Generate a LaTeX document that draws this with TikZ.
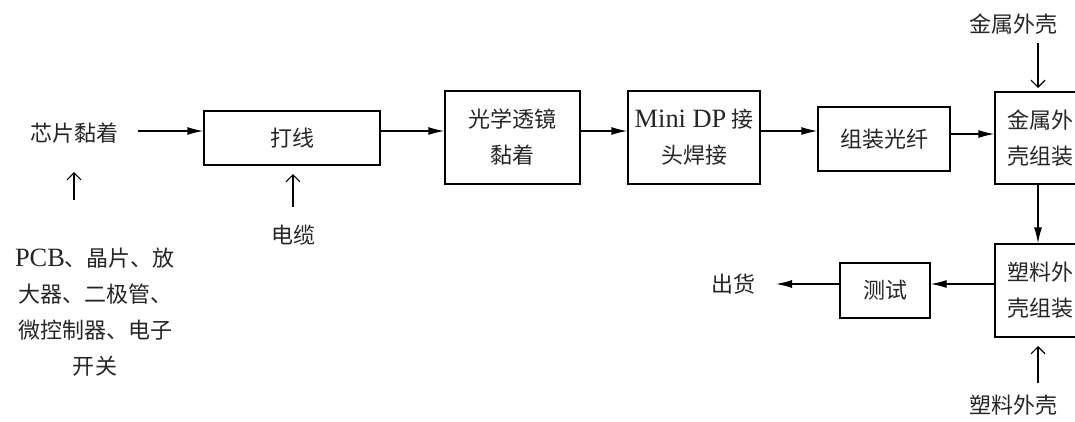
\documentclass[tikz,border=0pt]{standalone}
\usepackage{fontspec}
\setmainfont{Noto Sans CJK SC}
\newfontfamily\lat[Scale=1.2]{Liberation Serif}
\usetikzlibrary{arrows.meta}
\tikzset{
  txt/.style={font=\fontsize{22}{36}\selectfont, text=black!85, inner sep=0pt},
  box/.style={draw=black, line width=1.3pt, font=\fontsize{22}{36}\selectfont, text=black!85, align=center, inner sep=0pt, anchor=center},
  flow/.style={line width=1.3pt, -{Latex[length=16pt,width=8pt]}},
  feed/.style={line width=1.2pt, -{Straight Barb[length=7pt,width=14pt]}}
}
\begin{document}
\begin{tikzpicture}[x=1pt,y=-1pt]
\clip (0,0) rectangle (1075,421);
\fill[white] (0,0) rectangle (1075,421);
% nodes
\node[txt] (n1) at (74,133) {芯片黏着};
\node[box, minimum width=176pt, minimum height=54pt] (b1) at (292,138) {打线};
\node[box, minimum width=135pt, minimum height=93pt] (b2) at (512.5,137.5) {光学透镜\\黏着};
\node[box, minimum width=132pt, minimum height=93pt] (b3) at (694,137.5) {{\lat Mini DP} 接\\头焊接};
\node[box, minimum width=132pt, minimum height=64pt] (b4) at (884,139) {组装光纤};
\node[box, minimum width=90pt, minimum height=92pt] (b5) at (1040,138) {金属外\\壳组装};
\node[box, minimum width=90pt, minimum height=93pt] (b6) at (1040,290.5) {塑料外\\壳组装};
\node[box, minimum width=90pt, minimum height=55pt] (b7) at (885,290.5) {测试};
\node[txt] (out) at (733,284) {出货};
\node[txt] (metal) at (1013,24) {金属外壳};
\node[txt] (plastic) at (1013,405) {塑料外壳};
\node[txt] (cable) at (293,235) {电缆};
\node[txt, align=center] (parts) at (95,312) {{\lat PCB}、晶片、放\\大器、二极管、\\微控制器、电子\\开关};
% helper coordinates
\coordinate (ya) at (0,131);
\coordinate (yb) at (0,284);
\coordinate (a1) at (138,131);
\coordinate (c1) at (74,200);
\coordinate (c1e) at (74,172);
\coordinate (c2) at (293,207);
\coordinate (c2e) at (293,174);
\coordinate (m1) at (1038,43);
\coordinate (m1e) at (1038,88);
\coordinate (p1) at (1038,383);
\coordinate (p1e) at (1038,346);
\coordinate (xc) at (1038,0);
\coordinate (o1) at (776,284);
% flow
\draw[flow] (a1) -- (b1.west |- ya);
\draw[flow] (b1.east |- ya) -- (b2.west |- ya);
\draw[flow] (b2.east |- ya) -- (b3.west |- ya);
\draw[flow] (b3.east |- ya) -- (b4.west |- ya);
\draw[flow] (b4.east |- 0,134) -- (b5.west |- 0,134);
\draw[flow] (b5.south -| xc) -- (b6.north -| xc);
\draw[flow] (b6.west |- yb) -- (b7.east |- yb);
\draw[flow] (b7.west |- yb) -- (o1);
% feeds
\draw[feed] (c1) -- (c1e);
\draw[feed] (c2) -- (c2e);
\draw[feed] (m1) -- (m1e);
\draw[feed] (p1) -- (p1e);
\end{tikzpicture}
\end{document}
